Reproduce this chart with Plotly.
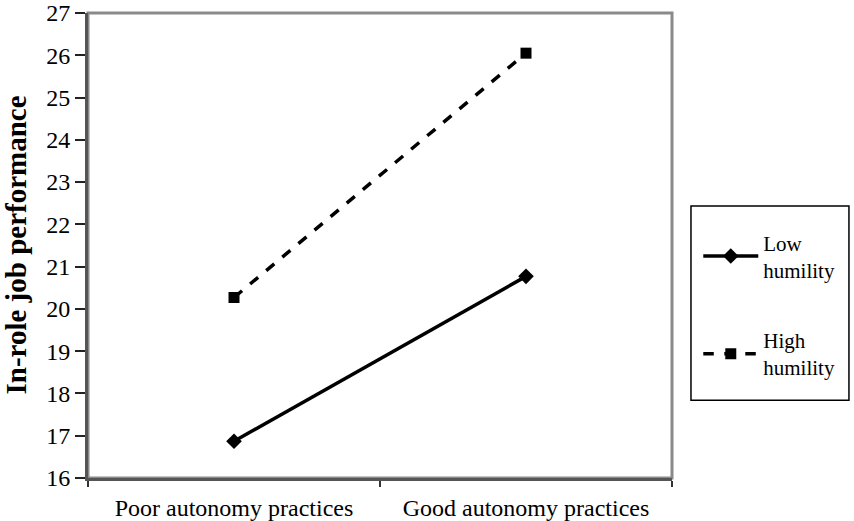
import plotly.graph_objects as go

categories = ["Poor autonomy practices", "Good autonomy practices"]
low_humility = [16.87, 20.77]
high_humility = [20.27, 26.05]
y_ticks = list(range(16, 28))

FONT = "Liberation Serif"

fig = go.Figure()
fig.add_trace(go.Scatter(
    x=categories, y=low_humility, name="Low<br>humility", mode="lines+markers",
    legendgroup="low",
    line=dict(color="black", width=3.5),
    marker=dict(symbol="diamond", size=12, color="black"),
))
fig.add_trace(go.Scatter(
    x=categories, y=high_humility, name="High<br>humility", mode="lines+markers",
    legendgroup="high",
    line=dict(color="black", width=3.5, dash="dash"),
    marker=dict(symbol="square", size=11, color="black"),
))

# gray frame (top/right)
fig.add_shape(type="rect", xref="paper", yref="paper", x0=0, x1=1, y0=0, y1=1,
              line=dict(color="#8a8a8a", width=3), layer="below")
# legend box
fig.add_shape(type="rect", xref="paper", yref="paper",
              x0=1.0325, x1=1.303, y0=0.167, y1=0.585,
              line=dict(color="black", width=1.5))

# y-axis title as annotation
fig.add_annotation(
    text="<b>In-role job performance</b>", textangle=-90,
    xref="paper", yref="paper", x=0, y=0.5, xanchor="center", yanchor="middle",
    xshift=-73, showarrow=False,
    font=dict(family=FONT, size=29, color="black"),
)

fig.update_layout(
    width=854, height=521,
    margin=dict(l=88, r=182, t=13, b=43),
    paper_bgcolor="white", plot_bgcolor="white",
    font=dict(family=FONT, size=24, color="black"),
    showlegend=True,
    legend=dict(
        x=1.045, xanchor="left", y=0.55, yanchor="top",
        borderwidth=0, bgcolor="rgba(0,0,0,0)",
        font=dict(family=FONT, size=21, color="black"),
        traceorder="grouped", tracegroupgap=40, itemwidth=55,
    ),
    xaxis=dict(
        type="category", range=[-0.5, 1.5], tickson="boundaries",
        ticks="outside", ticklen=6, tickwidth=1.5, tickcolor="#333",
        showline=True, linecolor="#555", linewidth=3,
        showgrid=False, zeroline=False, automargin=False,
        ticklabelstandoff=6,
        tickfont=dict(family=FONT, size=24),
    ),
    yaxis=dict(
        range=[16, 27], tickvals=y_ticks,
        ticks="outside", ticklen=10, tickwidth=2, tickcolor="#222",
        showline=True, linecolor="#555", linewidth=3,
        showgrid=False, zeroline=False, automargin=False,
        tickfont=dict(family=FONT, size=24),
    ),
)

# remove the default 8px page margin so the figure sits at the window origin
fig.write_html("out.html", config={"displayModeBar": False},
               post_script="document.body.style.margin='0';")
